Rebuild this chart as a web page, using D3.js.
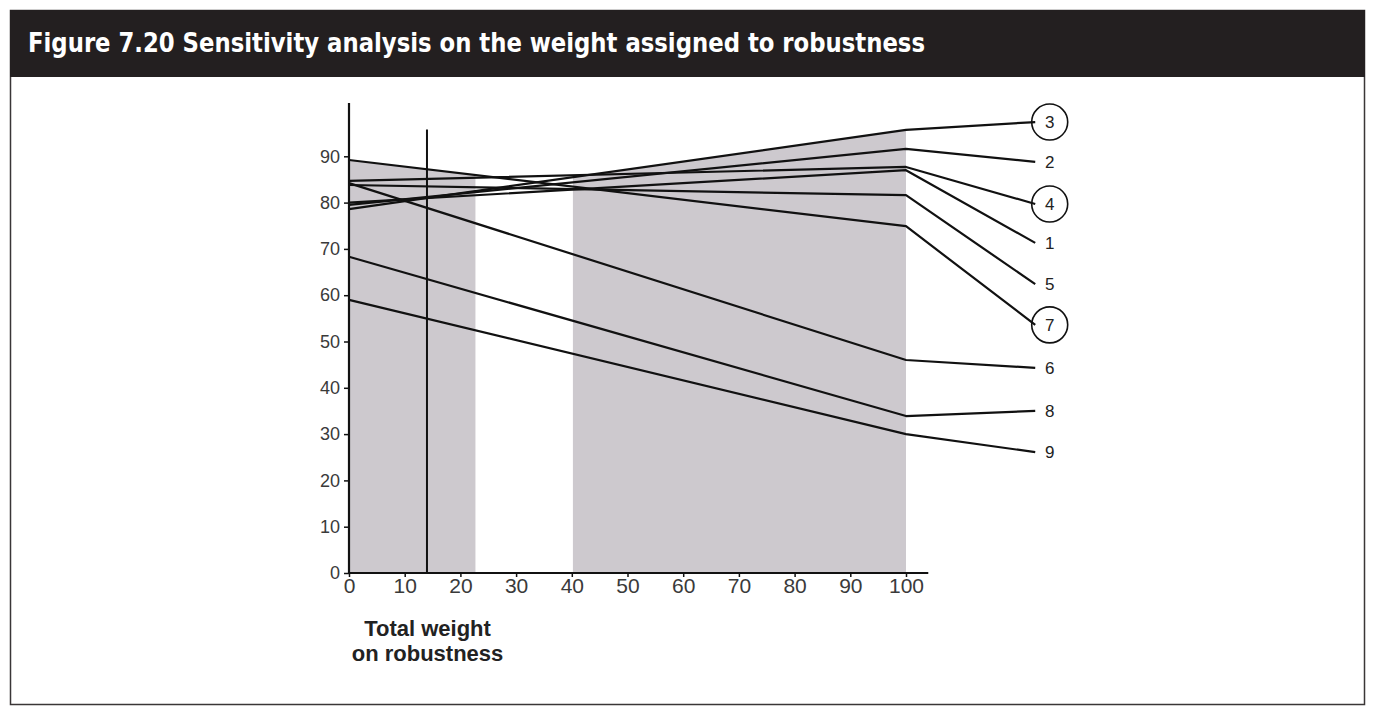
<!DOCTYPE html>
<html>
<head>
<meta charset="utf-8">
<script src="https://cdn.jsdelivr.net/npm/d3@7"></script>
<style>
  body { margin: 0; background: #fff; }
  svg { display: block; }
</style>
</head>
<body>
<svg id="chart" width="1375" height="720"></svg>
<script>
// series in the order their labels appear on the right
const series = ["3", "2", "4", "1", "5", "7", "6", "8", "9"];
const circled = ["3", "4", "7"];
const valuesAtZero = [78.6, 79.5, 84.7, 80.0, 83.8, 89.2, 84.2, 68.3, 59.0];
const valuesAtHundred = [95.7, 91.6, 87.7, 87.0, 81.6, 74.9, 46.0, 33.9, 30.0];
const labelLevels = [97.4, 88.8, 79.7, 71.3, 62.4, 53.6, 44.3, 35.0, 26.1];
const weights = [0, 100];
const leaderEnd = 123.2;   // where the leader lines stop (weight units)
const labelAt = 125.8;     // label centre (weight units)

const xTicks = [0, 10, 20, 30, 40, 50, 60, 70, 80, 90, 100];
const yTicks = [0, 10, 20, 30, 40, 50, 60, 70, 80, 90];
const shadedRanges = [[0, 22.7], [40.2, 100]];
const currentWeight = 14;

const svg = d3.select("#chart");

// frame + header band
svg.append("rect")
    .attr("x", 10.5).attr("y", 10.5)
    .attr("width", 1354).attr("height", 694)
    .attr("fill", "#fff")
    .attr("stroke", "#3a3637").attr("stroke-width", 1.5);
svg.append("rect")
    .attr("x", 10).attr("y", 10)
    .attr("width", 1355).attr("height", 67)
    .attr("fill", "#231f20");
svg.append("text")
    .attr("x", 28).attr("y", 52)
    .attr("fill", "#fff")
    .style("font-family", "'Liberation Sans Narrow', 'DejaVu Sans Condensed', 'Open Sans', sans-serif")
    .style("font-weight", "bold")
    .style("font-size", "26px")
    .attr("textLength", 897)
    .attr("lengthAdjust", "spacingAndGlyphs")
    .text("Figure 7.20  Sensitivity analysis on the weight assigned to robustness");

const x = d3.scaleLinear().domain([0, 100]).range([349, 906]);
const y = d3.scaleLinear().domain([0, 100]).range([573, 110]);

const lines = series.map(function(name, i){
    return {
        name: name,
        points: [
            [weights[0], valuesAtZero[i]],
            [weights[1], valuesAtHundred[i]],
            [leaderEnd, labelLevels[i]]
        ],
        at: function(w){
            return valuesAtZero[i] + (valuesAtHundred[i] - valuesAtZero[i]) * (w - weights[0]) / (weights[1] - weights[0]);
        }
    };
});

// shaded ranges: filled up to the upper envelope of the lines
const area = d3.area()
    .x(d => x(d[0]))
    .y0(y(0))
    .y1(d => y(d[1]));

shadedRanges.forEach(function(r){
    let samples = d3.range(r[0], r[1], 0.25).concat([r[1]]);
    let envelope = samples.map(w => [w, d3.max(lines, l => l.at(w))]);
    svg.append("path")
        .attr("d", area(envelope))
        .attr("fill", "#cdc9ce");
});

// lines
const lineGen = d3.line()
    .x(d => x(d[0]))
    .y(d => y(d[1]));

svg.append("g")
    .selectAll("path")
    .data(lines)
    .enter()
    .append("path")
    .attr("d", d => lineGen(d.points))
    .attr("fill", "none")
    .attr("stroke", "#111")
    .attr("stroke-width", 2.2)
    .attr("stroke-linejoin", "round");

// current weight marker
svg.append("line")
    .attr("x1", x(currentWeight)).attr("x2", x(currentWeight))
    .attr("y1", y(0)).attr("y2", y(95.8))
    .attr("stroke", "#111").attr("stroke-width", 2);

// labels
const labels = svg.append("g")
    .selectAll("g")
    .data(lines)
    .enter()
    .append("g")
    .attr("transform", (d, i) => `translate(${x(labelAt)}, ${y(labelLevels[i])})`);

labels.filter(d => circled.includes(d.name))
    .append("circle")
    .attr("r", 18)
    .attr("fill", "none")
    .attr("stroke", "#111")
    .attr("stroke-width", 1.6);

labels.append("text")
    .attr("text-anchor", "middle")
    .attr("dy", "0.36em")
    .style("font-family", "'Liberation Sans', Arial, sans-serif")
    .style("font-size", "17px")
    .attr("fill", "#222")
    .text(d => d.name);

// axes
const tickFont = "'Liberation Sans', Arial, sans-serif";

const yAxis = svg.append("g")
    .attr("transform", `translate(${x(0)},0)`)
    .call(d3.axisLeft(y).tickValues(yTicks).tickSize(5).tickPadding(4));
yAxis.select(".domain").remove();

const xAxis = svg.append("g")
    .attr("transform", `translate(0,${y(0)})`)
    .call(d3.axisBottom(x).tickValues(xTicks).tickSize(4).tickPadding(1));
xAxis.select(".domain").remove();

yAxis.selectAll("text").style("font-size", "18px");
xAxis.selectAll("text").style("font-size", "21px");
[yAxis, xAxis].forEach(function(ax){
    ax.selectAll("text")
        .style("font-family", tickFont)
        .attr("fill", "#3a3a3a");
    ax.selectAll(".tick line")
        .attr("stroke", "#111")
        .attr("stroke-width", 1.5);
});

svg.append("line")
    .attr("x1", x(0)).attr("x2", x(0))
    .attr("y1", y(0) + 1).attr("y2", y(101.5))
    .attr("stroke", "#111").attr("stroke-width", 2.2);
svg.append("line")
    .attr("x1", x(0) - 1).attr("x2", x(104))
    .attr("y1", y(0)).attr("y2", y(0))
    .attr("stroke", "#111").attr("stroke-width", 2.2);

// axis title
const title = svg.append("text")
    .attr("text-anchor", "middle")
    .style("font-family", tickFont)
    .style("font-size", "22px")
    .style("font-weight", "bold")
    .attr("fill", "#222");
title.append("tspan").attr("x", x(14.1)).attr("y", 636).text("Total weight");
title.append("tspan").attr("x", x(14.1)).attr("y", 661).text("on robustness");
</script>
</body>
</html>
